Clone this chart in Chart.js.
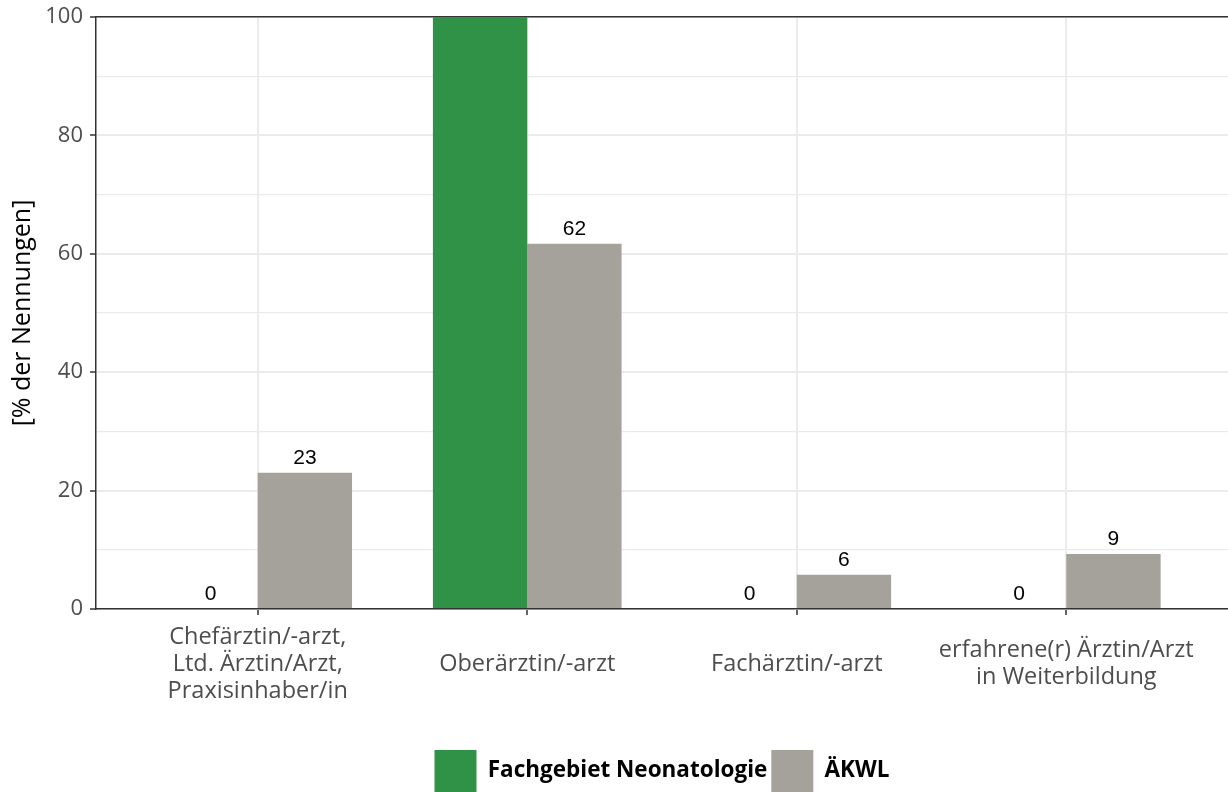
<!DOCTYPE html>
<html>
<head>
<meta charset="utf-8">
<script src="https://cdn.jsdelivr.net/npm/chart.js@4.4.1/dist/chart.umd.min.js"></script>
<style>
  html, body { margin: 0; padding: 0; background: #fff; overflow: hidden; }
  #wrap { width: 1228px; height: 802px; position: relative; }
</style>
</head>
<body>
<div id="wrap"><canvas id="chart"></canvas></div>
<script>
const categories = [
  ['Chefärztin/-arzt,', 'Ltd. Ärztin/Arzt,', 'Praxisinhaber/in'],
  ['Oberärztin/-arzt'],
  ['Fachärztin/-arzt'],
  ['erfahrene(r) Ärztin/Arzt', 'in Weiterbildung']
];
const seriesNames = ['Fachgebiet Neonatologie', 'ÄKWL'];
const neonatologie = [0, 100, 0, 0];
const aekwl = [23, 61.7, 5.8, 9.3];
const seriesColors = ['#309247', '#A5A29B'];
const yTicks = [0, 20, 40, 60, 80, 100];

const positions = categories.map((c, i) => i + 1);

// value labels above bars, clipped to plot area
const barLabels = {
  id: 'barLabels',
  afterDatasetsDraw(chart) {
    const ctx = chart.ctx;
    const area = chart.chartArea;
    ctx.save();
    ctx.beginPath();
    ctx.rect(area.left, area.top, area.right - area.left, area.bottom - area.top);
    ctx.clip();
    ctx.font = '21px "Liberation Sans", Arial, sans-serif';
    ctx.fillStyle = '#000';
    ctx.textAlign = 'center';
    ctx.textBaseline = 'alphabetic';
    chart.data.datasets.forEach((ds, di) => {
      chart.getDatasetMeta(di).data.forEach((el, i) => {
        ctx.fillText(Math.round(ds.data[i].y), el.x, el.y - 9);
      });
    });
    ctx.restore();
  }
};

new Chart(document.getElementById('chart'), {
  type: 'bar',
  data: {
    datasets: [{
      label: seriesNames[0],
      data: positions.map((x, i) => ({x: x, y: neonatologie[i]})),
      backgroundColor: seriesColors[0]
    }, {
      label: seriesNames[1],
      data: positions.map((x, i) => ({x: x, y: aekwl[i]})),
      backgroundColor: seriesColors[1]
    }]
  },
  plugins: [barLabels],
  options: {
    responsive: true,
    maintainAspectRatio: false,
    animation: false,
    categoryPercentage: 0.7,
    barPercentage: 1.0,
    layout: { padding: { top: 17, right: 0, left: 0, bottom: 0 } },
    plugins: {
      tooltip: { enabled: false },
      legend: {
        position: 'bottom',
        fullSize: false,
        labels: {
          boxWidth: 42,
          boxHeight: 42,
          padding: 4,
          color: '#000',
          font: { family: 'Open Sans', size: 22.5, weight: 'bold', lineHeight: 42 / 22.5 }
        }
      }
    },
    scales: {
      x: {
        type: 'linear',
        offset: false,
        min: 0.4,
        max: 4.6,
        afterBuildTicks: s => { s.ticks = positions.map(v => ({value: v})); },
        afterFit: s => { s.height = 137; },
        ticks: {
          callback: v => categories[v - 1],
          crossAlign: 'center',
          color: '#4D4D4D',
          padding: 22,
          maxRotation: 0,
          autoSkip: false,
          font: { family: 'Open Sans', size: 23.5, lineHeight: 27 / 23.5 }
        },
        grid: { offset: false, color: '#EBEBEB', lineWidth: 2, tickColor: '#333', tickLength: 6, tickWidth: 1.5 },
        border: { color: '#333', width: 1.5 }
      },
      x2: {
        type: 'linear',
        position: 'top',
        offset: false,
        min: 0.4,
        max: 4.6,
        afterFit: s => { s.height = 0; },
        ticks: { display: false },
        grid: { display: false, drawTicks: false },
        border: { color: '#333', width: 1.5 }
      },
      y: {
        min: 0,
        max: 100,
        afterFit: s => { s.width = 96; s.paddingTop = 0; s.paddingBottom = 0; },
        afterBuildTicks: s => {
          const t = [];
          for (let v = 0; v <= 100; v += 10) t.push({value: v});
          s.ticks = t;
        },
        ticks: {
          callback: v => yTicks.includes(v) ? v : '',
          color: '#4D4D4D',
          padding: 7,
          font: { family: 'Open Sans', size: 22, lineHeight: 1 }
        },
        grid: {
          color: '#EBEBEB',
          lineWidth: c => yTicks.includes(c.tick.value) ? 2 : 1.2,
          tickColor: c => yTicks.includes(c.tick.value) ? '#333' : 'rgba(0,0,0,0)',
          tickLength: 6,
          tickWidth: 1.5
        },
        border: { color: '#333', width: 1.5 },
        title: {
          display: true,
          text: '[% der Nennungen]',
          color: '#000',
          padding: { top: 8, bottom: 0 },
          font: { family: 'Open Sans', size: 25 }
        }
      }
    }
  }
});
</script>
</body>
</html>
